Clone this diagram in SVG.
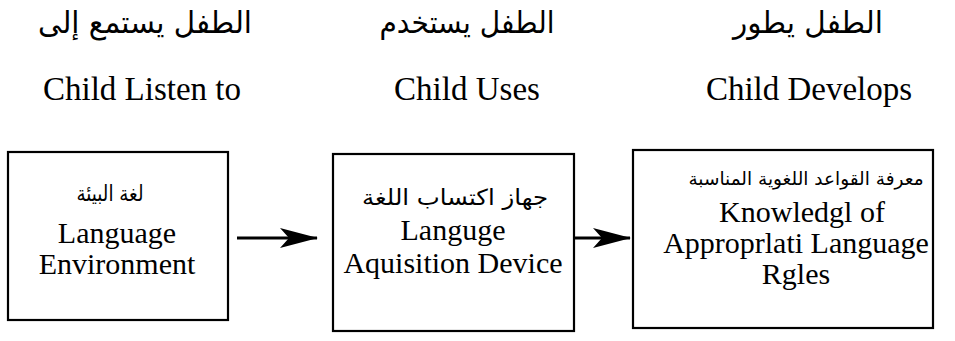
<svg xmlns="http://www.w3.org/2000/svg" width="955" height="341" viewBox="0 0 955 341">
<style>
.box{fill:#fff;stroke:#000;stroke-width:2.2}
.en{font-family:"Liberation Serif","Times New Roman",serif;fill:#000;text-anchor:middle}
.ar{font-family:"DejaVu Sans",sans-serif;fill:#000;text-anchor:middle;direction:rtl}
.h{font-size:33px}
.b{font-size:30px}
.harb{font-size:30px}
.barb{font-size:22px}
.conn{stroke:#000;stroke-width:3.2;fill:none}
</style>
<defs>
<marker id="ah" markerWidth="38" markerHeight="22" refX="37" refY="11" orient="auto" markerUnits="userSpaceOnUse">
<path d="M0,1 L38,11 L0,21 L9,11 Z" fill="#000"/>
</marker>
</defs>
<rect width="955" height="341" fill="#fff"/>
<g id="headers">
<text class="ar harb" x="145" y="33" textLength="214" lengthAdjust="spacingAndGlyphs">الطفل يستمع إلى</text>
<text class="en h" x="142" y="100">Child Listen to</text>
<text class="ar harb" x="467" y="33" textLength="175" lengthAdjust="spacingAndGlyphs">الطفل يستخدم</text>
<text class="en h" x="467" y="100">Child Uses</text>
<text class="ar harb" x="808" y="33" textLength="150" lengthAdjust="spacingAndGlyphs">الطفل يطور</text>
<text class="en h" x="809" y="100">Child Develops</text>
</g>
<g id="node1">
<rect class="box" x="8" y="152" width="220" height="168"/>
<text class="ar barb" x="110" y="201" textLength="67" lengthAdjust="spacingAndGlyphs">لغة البيئة</text>
<text class="en b" x="117" y="243">Language</text>
<text class="en b" x="117" y="274">Environment</text>
</g>
<g id="node2">
<rect class="box" x="333" y="154" width="241" height="177"/>
<text class="ar barb" x="455" y="205" textLength="186" lengthAdjust="spacingAndGlyphs">جهاز اكتساب اللغة</text>
<text class="en b" x="453" y="240">Languge</text>
<text class="en b" x="453" y="273">Aquisition Device</text>
</g>
<g id="node3">
<rect class="box" x="633" y="150" width="300" height="178"/>
<text class="ar" style="font-size:18.5px" x="806" y="185">معرفة القواعد اللغوية المناسبة</text>
<text class="en b" x="802" y="222">Knowledgl of</text>
<text class="en b" x="796" y="253">Approprlati Language</text>
<text class="en b" x="796" y="284">Rgles</text>
</g>
<g id="connectors">
<line class="conn" x1="237" y1="238" x2="317" y2="238" marker-end="url(#ah)"/>
<line class="conn" x1="575" y1="238" x2="630" y2="238" marker-end="url(#ah)"/>
</g>
</svg>
